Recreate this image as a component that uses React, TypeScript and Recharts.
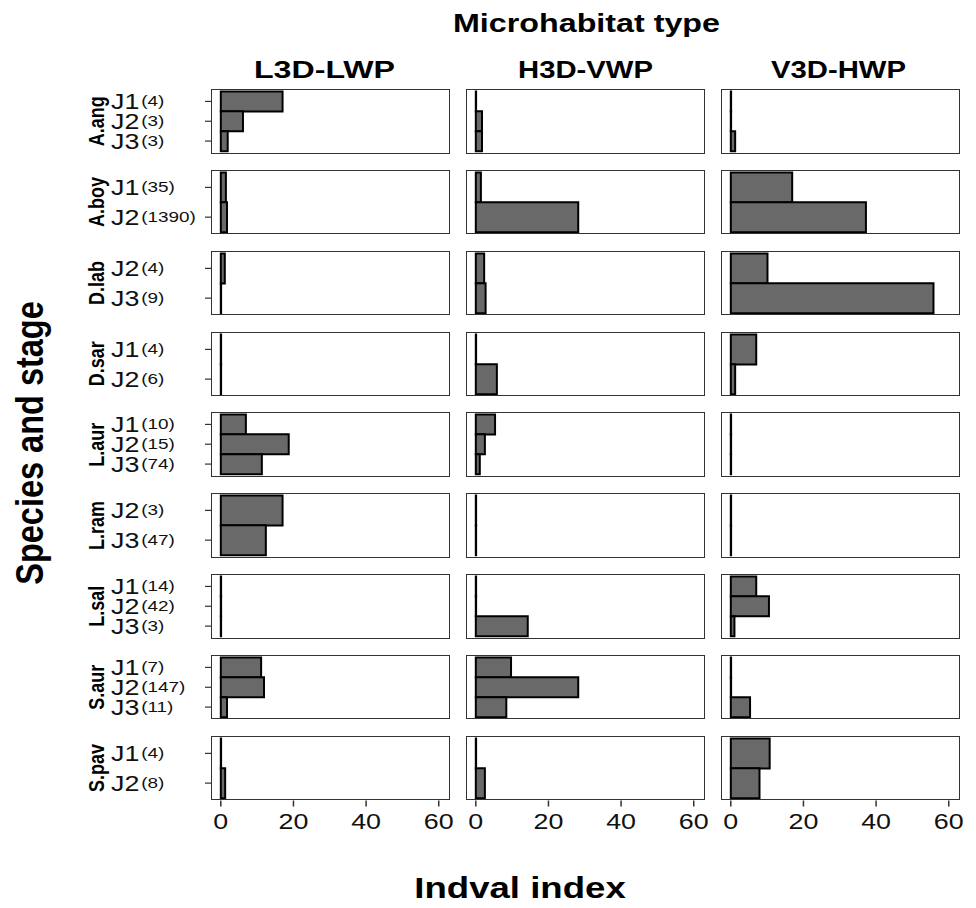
import React from 'react';
import { BarChart, Bar, XAxis, YAxis } from 'recharts';

// species rows (facet rows), microhabitat columns (facet columns)
const species = ['A.ang', 'A.boy', 'D.lab', 'D.sar', 'L.aur', 'L.ram', 'L.sal', 'S.aur', 'S.pav'];
const habitats = ['L3D-LWP', 'H3D-VWP', 'V3D-HWP'];

const stages = [
  ['J1', 'J2', 'J3'],
  ['J1', 'J2'],
  ['J2', 'J3'],
  ['J1', 'J2'],
  ['J1', 'J2', 'J3'],
  ['J2', 'J3'],
  ['J1', 'J2', 'J3'],
  ['J1', 'J2', 'J3'],
  ['J1', 'J2'],
];

// number of individuals, shown next to each stage
const counts = [
  [4, 3, 3],
  [35, 1390],
  [4, 9],
  [4, 6],
  [10, 15, 74],
  [3, 47],
  [14, 42, 3],
  [7, 147, 11],
  [4, 8],
];

// Indval index per species / stage
const l3dLwp = [
  [17.0, 6.1, 1.9],
  [1.4, 1.7],
  [1.1, 0],
  [0, 0],
  [6.9, 18.7, 11.3],
  [17.0, 12.4],
  [0, 0, 0],
  [11.1, 11.9, 1.7],
  [0, 1.2],
];

const h3dVwp = [
  [0, 1.7, 1.7],
  [1.4, 28.2],
  [2.3, 2.7],
  [0, 5.8],
  [5.3, 2.5, 1.1],
  [0, 0],
  [0, 0, 14.3],
  [9.7, 28.2, 8.4],
  [0, 2.5],
];

const v3dHwp = [
  [0, 0, 1.2],
  [16.9, 37.2],
  [10.1, 55.8],
  [7.0, 1.2],
  [0, 0, 0],
  [0, 0],
  [7.0, 10.5, 1.0],
  [0, 0, 5.3],
  [10.7, 7.9],
];

const xTicks = [0, 20, 40, 60];

const values = [l3dLwp, h3dVwp, v3dHwp];

const FONT = '"Liberation Sans", Arial, Helvetica, sans-serif';
const SX = 1.22; // the figure is stretched horizontally
const PANEL_LEFT = 211;
const PANEL_STEP_X = 255;
const PANEL_W = 239;
const PANEL_TOP = 89;
const PANEL_STEP_Y = 80.85;
const PANEL_H = 64.5;
const Y_AXIS_W = 111;
const X_AXIS_H = 48;
const DOMAIN: [number, number] = [-2.7, 63.1];

const stageTick = (row: number) => (props: any) => {
  const { y, payload, index } = props;
  const n = counts[row][index];
  return (
    <g transform={`translate(11, ${y + 8}) scale(${SX}, 1)`}>
      <text x={0} y={0} fontSize={22} fill="#111" fontFamily={FONT}>
        {payload.value}
        <tspan fontSize={15.5} dx={1.5} dy={-3.5}>
          ({n})
        </tspan>
      </text>
    </g>
  );
};

const numberTick = (props: any) => {
  const { x, y, payload } = props;
  return (
    <g transform={`translate(${x}, ${y + 20}) scale(${SX}, 1)`}>
      <text x={0} y={0} textAnchor="middle" fontSize={22} fill="#111" fontFamily={FONT}>
        {payload.value}
      </text>
    </g>
  );
};

const Panel = ({ row, col }: { row: number; col: number }) => {
  const data = stages[row].map((s, i) => ({ stage: s, value: values[col][row][i] }));
  const first = col === 0;
  const last = row === species.length - 1;
  const left = first ? PANEL_LEFT - Y_AXIS_W : PANEL_LEFT + col * PANEL_STEP_X;
  const top = PANEL_TOP + row * PANEL_STEP_Y;
  const width = PANEL_W + (first ? Y_AXIS_W : 0);
  const height = PANEL_H + (last ? X_AXIS_H : 0);

  return (
    <div style={{ position: 'absolute', left, top }}>
      <BarChart
        width={width}
        height={height}
        data={data}
        layout="vertical"
        margin={{ top: 0, right: 0, bottom: 0, left: 0 }}
        barCategoryGap={0}
        barGap={0}
      >
        <XAxis
          type="number"
          dataKey="value"
          domain={DOMAIN}
          allowDataOverflow
          ticks={xTicks}
          hide={!last}
          height={X_AXIS_H}
          axisLine={false}
          tickSize={6}
          tickLine={{ stroke: '#333', strokeWidth: 1.5 }}
          tick={numberTick}
          interval={0}
        />
        <YAxis
          type="category"
          dataKey="stage"
          hide={!first}
          width={Y_AXIS_W}
          padding={{ top: 2.5, bottom: 2.5 }}
          axisLine={false}
          tickSize={6}
          tickLine={{ stroke: '#333', strokeWidth: 1.2 }}
          tick={stageTick(row)}
          interval={0}
        />
        <Bar
          dataKey="value"
          fill="#696969"
          stroke="#000"
          strokeWidth={2}
          minPointSize={0.3}
          isAnimationActive={false}
        />
      </BarChart>
    </div>
  );
};

const Title = ({ x, y, size, text, rotate, length }: any) => (
  <g transform={`translate(${x}, ${y}) scale(${length ? 1 : SX}, 1)${rotate ? ' rotate(-90)' : ''}`}>
    <text
      x={0}
      y={0}
      textAnchor="middle"
      fontSize={size}
      fontWeight="bold"
      fontFamily={FONT}
      fill="#000"
      textLength={length}
      lengthAdjust={length ? 'spacingAndGlyphs' : undefined}
    >
      {text}
    </text>
  </g>
);

const headerCenters = [324.5, 585.5, 838.5];
const headerLengths = [141, 135, 135];

export default function App() {
  return (
    <div style={{ position: 'absolute', left: 0, top: 0, width: 976, height: 908, background: '#fff' }}>
      <style>{'.recharts-surface { overflow: visible; }'}</style>
      {species.map((_, r) => habitats.map((_, c) => <Panel key={`${r}-${c}`} row={r} col={c} />))}
      {species.map((_, r) =>
        habitats.map((_, c) => (
          <div
            key={`b-${r}-${c}`}
            style={{
              position: 'absolute',
              left: PANEL_LEFT + c * PANEL_STEP_X,
              top: PANEL_TOP + r * PANEL_STEP_Y,
              width: PANEL_W,
              height: PANEL_H,
              border: '1px solid #333',
              boxSizing: 'border-box',
              pointerEvents: 'none',
            }}
          />
        ))
      )}
      <svg width={976} height={908} style={{ position: 'absolute', left: 0, top: 0, pointerEvents: 'none' }}>
        <Title x={586.5} y={32} size={26} text="Microhabitat type" length={267} />
        {habitats.map((h, c) => (
          <Title key={h} x={headerCenters[c]} y={78} size={23} text={h} length={headerLengths[c]} />
        ))}
        {species.map((s, r) => (
          <Title key={s} x={104} y={PANEL_TOP + r * PANEL_STEP_Y + PANEL_H / 2} size={18} text={s} rotate />
        ))}
        <Title x={43} y={443} size={32.5} text="Species and stage" rotate />
        <Title x={520} y={898} size={30} text="Indval index" />
      </svg>
    </div>
  );
}
